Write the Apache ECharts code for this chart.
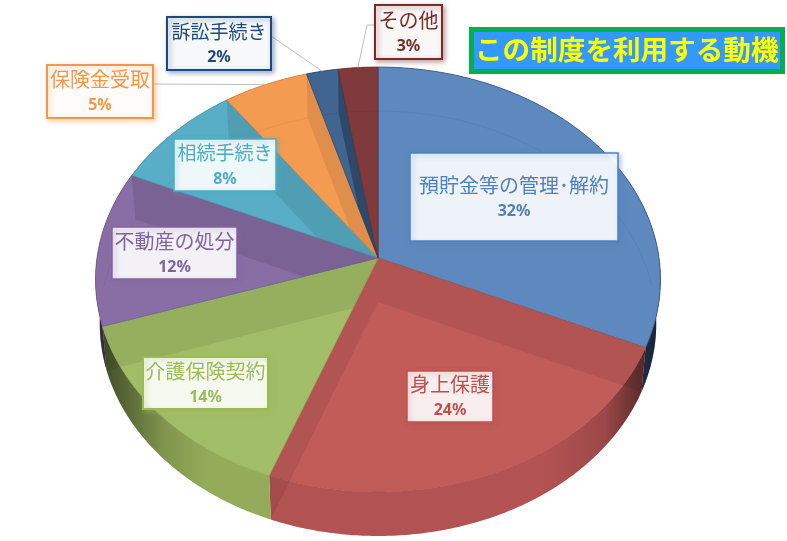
<!DOCTYPE html>
<html><head><meta charset="utf-8">
<style>html,body{margin:0;padding:0;background:#fff}#c{width:787px;height:541px}</style>
<script src="https://cdn.jsdelivr.net/npm/echarts@6/dist/echarts.min.js"></script>
</head><body><div id="c"></div>
<script>
const chartTitle = 'この制度を利用する動機';
const categories = ['預貯金等の管理･解約','身上保護','介護保険契約','不動産の処分','相続手続き','保険金受取','訴訟手続き','その他'];
const values = [31.7, 24, 14.2, 11.8, 8.4, 5.4, 2, 2.5];
const faceColors = ['#5E89BE','#C15C59','#A2BD67','#896EA5','#57AEC6','#F49B52','#3F6590','#803A3C'];
const wallColors = ['#34557F','#B25252','#94AC5A','#745C90','#4A94A8','#D08040','#2F4B70','#6A2F30'];
const textColors = ['#4F81BD','#C0504D','#9BBB59','#8064A2','#4BACC6','#F79646','#1F497D','#772C2A'];
const wallTint = [0.08,0.08,0.07,0.1,0.09,0.08,0.28,0.08];

// layout of the label boxes: x, y, width, height
const boxLayout = [[410,153,208,88],[407,371,86,51],[143,357,125,52],[112,227,125,52],[174,139,102,52],[47,65,106,53],[167,17,104,53],[375,5,67,54]];
const boxBorder = [1.5,1.5,2,1.5,1.5,2,2,2];
const labelFontSize = [20,20,20,20,19,20,19,20];
const leaderStart = {5:[[153,84]],6:[[271,36]],7:[[375,25],[367,25]]};

// perspective of the disc
const P = {cx:378, cy:258, a:281, b:210.3, k:0.1012, lowY:302, lowS:0.985};
const total = values.reduce((s,v)=>s+v,0);
const startAngle = i => values.slice(0,i).reduce((s,v)=>s+v,0)/total*2*Math.PI;
function topRim(t){const u=Math.sin(t),v=-Math.cos(t),w=1-P.k*v;return [P.cx+P.a*u/w,P.cy+P.b*v/w];}
function lowRim(t){const u=Math.sin(t),v=-Math.cos(t),w=1-P.k*v;return [P.cx+P.lowS*P.a*u/w,P.lowY+P.b*v/w];}
function arc(fn,a,b){const n=Math.max(2,Math.ceil(Math.abs(b-a)/0.01)),r=[];for(let j=0;j<=n;j++)r.push(fn(a+(b-a)*j/n));return r;}
// signed side of point p relative to the ray from the disc centre through rim angle t (positive = clockwise of it)
function side(t,p){const r=topRim(t);return (r[0]-P.cx)*(p[1]-P.cy)-(r[1]-P.cy)*(p[0]-P.cx);}
// keep the part of a polygon where sign*side(t,p) >= 0
function clipHalf(pts,t,sign){
  const out=[];
  for(let j=0;j<pts.length;j++){
    const p=pts[j],q=pts[(j+1)%pts.length],sp=sign*side(t,p),sq=sign*side(t,q);
    if(sp>=0)out.push(p);
    if((sp>0&&sq<0)||(sp<0&&sq>0)){const f=sp/(sp-sq);out.push([p[0]+(q[0]-p[0])*f,p[1]+(q[1]-p[1])*f]);}
  }
  return out;
}

const edgeShade = new echarts.graphic.LinearGradient(95,0,660,0,[
  {offset:0,color:'rgba(0,0,0,0.6)'},{offset:0.05,color:'rgba(0,0,0,0.42)'},{offset:0.12,color:'rgba(0,0,0,0.14)'},
  {offset:0.2,color:'rgba(0,0,0,0)'},{offset:0.8,color:'rgba(0,0,0,0)'},{offset:0.9,color:'rgba(0,0,0,0.12)'},
  {offset:0.96,color:'rgba(0,0,0,0.42)'},{offset:1,color:'rgba(0,0,0,0.6)'}],true);

function renderWall(params){
  const i=params.dataIndex,a=startAngle(i),b=startAngle(i+1);
  const pts=arc(topRim,a,b).concat(arc(lowRim,a,b).reverse());
  return {type:'group',children:[
    {type:'polygon',shape:{points:pts},style:{fill:wallColors[i]}},
    {type:'polygon',shape:{points:pts},style:{fill:edgeShade}}
  ]};
}
function renderFace(params){
  const i=params.dataIndex,a=startAngle(i),b=startAngle(i+1);
  const c=[P.cx,P.cy],c2=[P.cx,P.lowY];
  const kids=[{type:'polygon',shape:{points:[c].concat(arc(topRim,a,b))},
    style:{fill:faceColors[i],stroke:wallColors[i],lineWidth:0.8}}];
  const fillWall=pts=>{if(pts.length>2)kids.push({type:'polygon',shape:{points:pts},style:{fill:'rgba(0,0,0,'+wallTint[i]+')'}});};
  if(Math.sin(a)>1e-6)fillWall(clipHalf([c,topRim(a),lowRim(a),c2],b,-1));
  if(Math.sin(b)<-1e-6)fillWall(clipHalf([c,topRim(b),lowRim(b),c2],a,1));
  // far rim of the lower plane, seen through the translucent disc
  const pts=arc(lowRim,a,b).filter(p=>p[1]<P.cy+30&&side(a,p)>=0&&side(b,p)<=0);
  if(pts.length>1)kids.push({type:'polyline',shape:{points:pts},style:{fill:'none',stroke:'rgba(0,0,0,0.06)',lineWidth:1}});
  return {type:'group',children:kids};
}
function renderLabel(params){
  const i=params.dataIndex,[x,y,w,h]=boxLayout[i],kids=[];
  if(leaderStart[i]){
    const mid=topRim((startAngle(i)+startAngle(i+1))/2);
    kids.push({type:'polyline',shape:{points:leaderStart[i].concat([mid])},style:{fill:'none',stroke:'#BFBFBF',lineWidth:1}});
  }
  kids.push({type:'rect',shape:{x,y,width:w,height:h},style:{fill:'rgba(255,255,255,0.9)',stroke:textColors[i],lineWidth:boxBorder[i],
    shadowBlur:5,shadowOffsetX:2,shadowOffsetY:2,shadowColor:echarts.color.modifyAlpha(textColors[i],0.45)}});
  const cx=x+w/2,cy=y+h/2;
  kids.push({type:'text',style:{text:categories[i],x:cx,y:cy-12,align:'center',verticalAlign:'middle',fill:textColors[i],
    font:'400 '+labelFontSize[i]+'px "Noto Sans CJK JP"'}});
  kids.push({type:'text',style:{text:Math.round(values[i]/total*100)+'%',x:cx,y:cy+14,align:'center',verticalAlign:'middle',fill:textColors[i],
    font:'700 16px "Noto Sans"'}});
  return {type:'group',children:kids};
}
const seriesData=values.map((v,i)=>({name:categories[i],value:[i,v]}));
const chart=echarts.init(document.getElementById('c'),null,{renderer:'canvas'});
chart.setOption({
  animation:false,
  backgroundColor:'#fff',
  title:{text:chartTitle,left:471,top:29,padding:[6,4,7,4],backgroundColor:'#3399FF',borderColor:'#00B050',borderWidth:5,
    textStyle:{color:'#FFFF00',fontSize:27.6,fontWeight:'bold',fontFamily:'"Noto Sans CJK JP"',lineHeight:30}},
  series:[
    {type:'custom',coordinateSystem:'none',z:1,silent:true,renderItem:renderWall,data:seriesData},
    {type:'custom',coordinateSystem:'none',z:2,silent:true,renderItem:renderFace,data:seriesData},
    {type:'custom',coordinateSystem:'none',z:3,silent:true,renderItem:renderLabel,data:seriesData}
  ]
});
</script></body></html>
